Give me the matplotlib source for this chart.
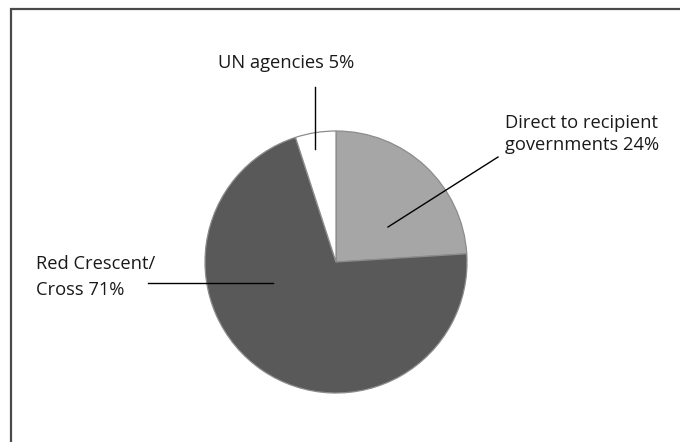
import matplotlib
matplotlib.use("Agg")
import matplotlib.pyplot as plt

# Shares of funding by channel
labels = ["Direct to recipient\ngovernments 24%", "Red Crescent/\nCross 71%", "UN agencies 5%"]
shares = [24, 71, 5]
colors = ["#a6a6a6", "#595959", "#ffffff"]

W, H = 680, 442
plt.rcParams["font.family"] = ["Open Sans", "DejaVu Sans"]

fig = plt.figure(figsize=(W / 100, H / 100), dpi=100)
ax = fig.add_axes([0, 0, 1, 1])
ax.axis("off")

def py(y):
    # pixel row (from top) -> data y
    return H - y

# Pie, starting at 12 o'clock, clockwise
ax.pie(shares, colors=colors, startangle=90, counterclock=False,
       center=(336, py(262)), radius=131,
       wedgeprops=dict(edgecolor="#8c8c8c", linewidth=0.9))
ax.set_xlim(0, W)
ax.set_ylim(0, H)
ax.set_aspect("equal")

# Frame (top and left only)
ax.plot([11, 11, W], [0, py(9), py(9)], color="#4a4a4a", lw=1.6,
        solid_joinstyle="miter", clip_on=False)

# Leader lines
ax.plot([315, 315], [py(87), py(149)], color="black", lw=1)
ax.plot([498, 388], [py(157), py(227)], color="black", lw=1)
ax.plot([148, 273], [py(283), py(283)], color="black", lw=1)

# Labels, one text per line so baselines match
fs = 13.2
def put(x, baselines, text):
    for yb, line in zip(baselines, text.split("\n")):
        ax.text(x, py(yb), line, fontsize=fs, ha="left", va="baseline", color="#1a1a1a")

put(218, [68], labels[2])
put(505, [128, 150], labels[0])
put(36, [269, 295], labels[1])

fig.savefig("out.png", dpi=100)
